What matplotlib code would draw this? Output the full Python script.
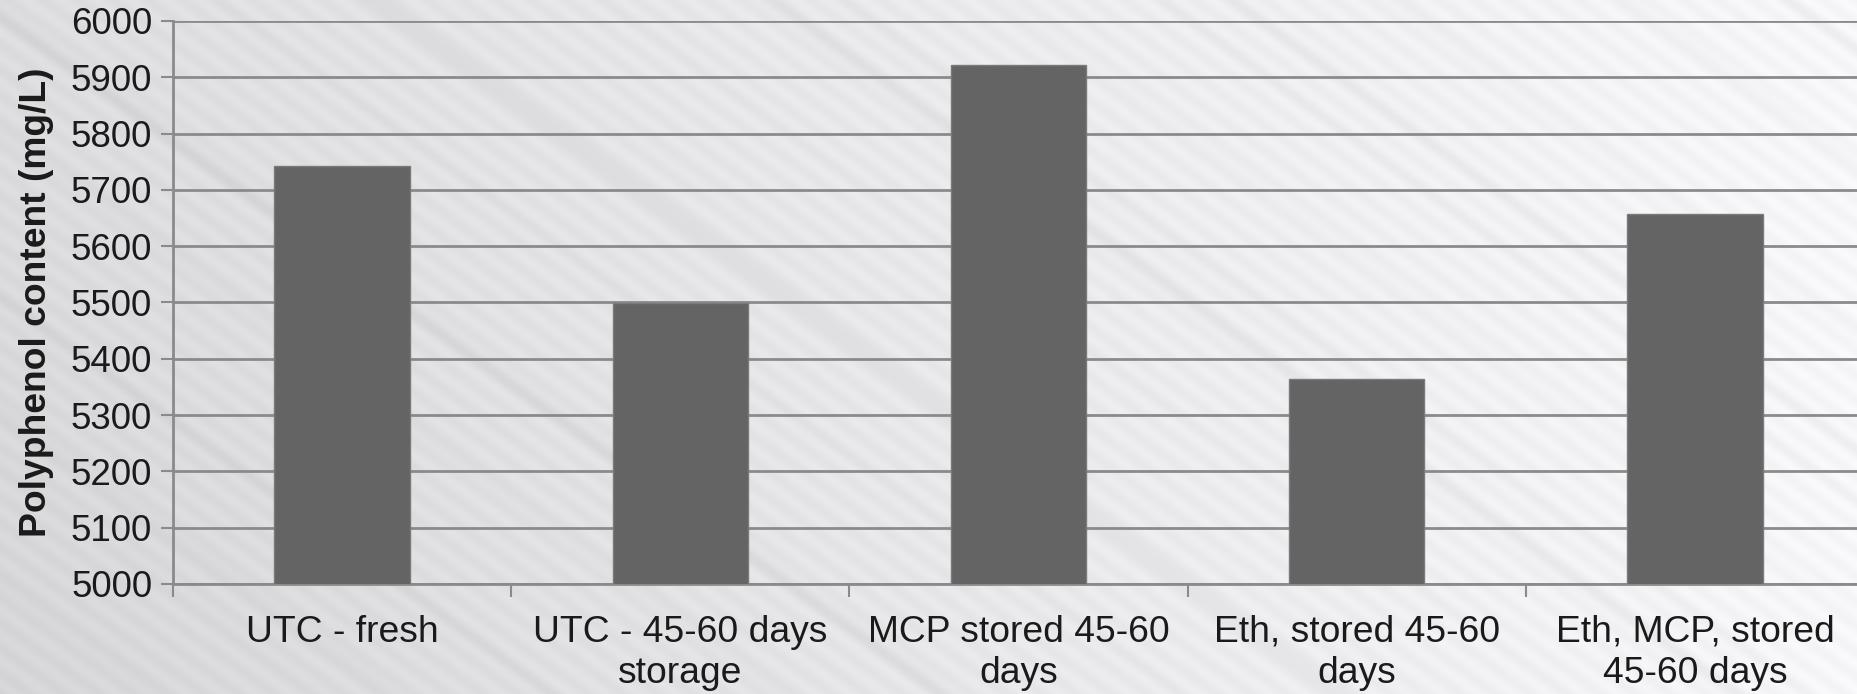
import numpy as np
import matplotlib
matplotlib.use("Agg")
from matplotlib import pyplot as plt
from matplotlib.ticker import FixedLocator, NullFormatter

plt.rcParams["font.family"] = ["Liberation Sans", "DejaVu Sans"]

categories = ["UTC - fresh", "UTC - 45-60 days\nstorage", "MCP stored 45-60\ndays",
              "Eth, stored 45-60\ndays", "Eth, MCP, stored\n45-60 days"]
polyphenol = [5743, 5499, 5921, 5364, 5658]
yticks = list(range(5000, 6001, 100))

W, H = 1858, 694
fig = plt.figure(figsize=(W / 100, H / 100), dpi=100)

# brushed-metal style backdrop: light gradient with diagonal streaks
bg = fig.add_axes([0, 0, 1, 1], zorder=0)
yy, xx = np.mgrid[0:H, 0:W].astype(float)
base = 0.87 + 0.10 * (xx / W) - 0.03 * (yy / H) * (1 - xx / W)
s = yy - 0.72 * xx
streak = (np.sin(s / 9.0) * 0.5 + np.sin(s / 23.0 + 1.3) * 0.35 + np.sin(s / 51.0 + 0.4) * 0.25)
streak = np.clip(streak, 0, None) ** 3
img = np.clip(base - 0.035 * streak + 0.012 * np.sin(s / 4.0), 0, 1)
rgb = np.dstack([img, img, img * 1.006 + 0.004])
bg.imshow(np.clip(rgb, 0, 1), aspect="auto", extent=[0, 1, 0, 1], interpolation="bilinear")
bg.set_axis_off()

ax = fig.add_axes([173 / W, 1 - 584 / H, 1691 / W, 563 / H], zorder=1)
ax.patch.set_alpha(0)

x = np.arange(len(categories))
ax.bar(x, polyphenol, width=0.4, color="#646464", edgecolor="#7a7a7a", linewidth=1, zorder=3)

ax.set_xlim(-0.5, len(categories) - 0.5)
ax.set_ylim(5000, 6000)
ax.set_yticks(yticks)
ax.yaxis.grid(True, color="#8a8a8a", linewidth=2, zorder=1)
ax.set_axisbelow(True)

ax.xaxis.set_major_locator(FixedLocator(np.arange(-0.5, len(categories), 1.0)))
ax.xaxis.set_major_formatter(NullFormatter())
ax.xaxis.set_minor_locator(FixedLocator(x))
ax.set_xticklabels(categories, minor=True)
ax.tick_params(axis="x", which="major", length=9, width=1.5, color="#8a8a8a", direction="out")
ax.tick_params(axis="x", which="minor", length=0, pad=22, labelsize=26.8, labelcolor="#1a1a1a")
ax.tick_params(axis="y", length=9, width=1.5, color="#8a8a8a", direction="out",
               labelsize=26.5, labelcolor="#1a1a1a", pad=6)
for lab in ax.get_xticklabels(minor=True):
    lab.set_linespacing(1.25)

for side in ["top", "right"]:
    ax.spines[side].set_visible(False)
for side in ["left", "bottom"]:
    ax.spines[side].set_color("#8a8a8a")
    ax.spines[side].set_linewidth(2)

ax.set_ylabel("Polyphenol content (mg/L)", fontsize=26.8, fontweight="bold", color="#1a1a1a", labelpad=12)

fig.savefig("out.png", dpi=100)
